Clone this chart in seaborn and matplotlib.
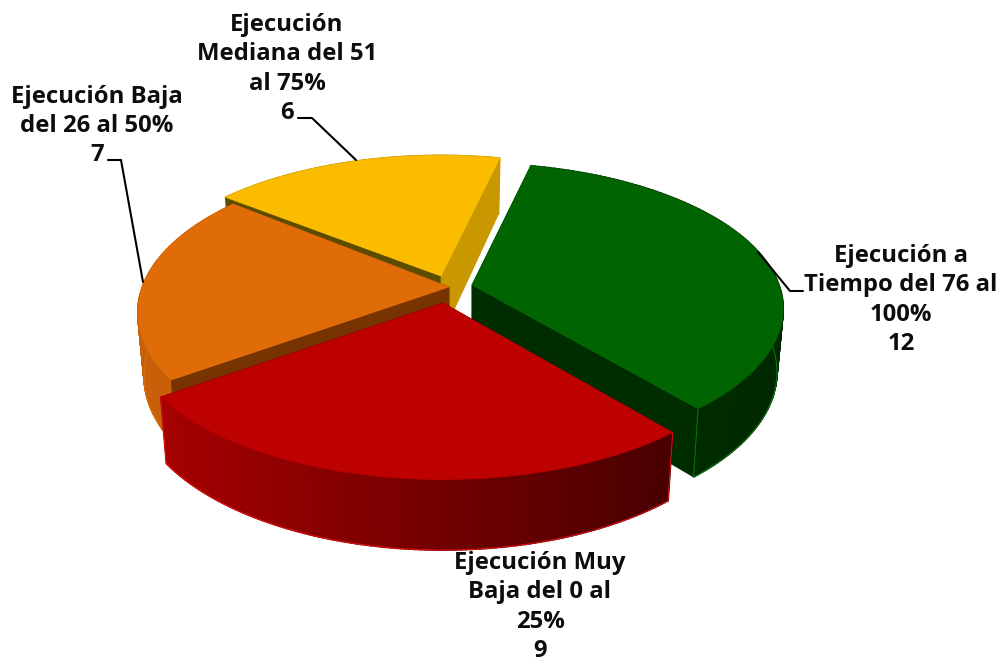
import numpy as np
import matplotlib
matplotlib.use("Agg")
import matplotlib.pyplot as plt
import seaborn as sns

# =========================
# DATA
# =========================
categories = [
    "Ejecución a\nTiempo del 76 al\n100%",
    "Ejecución Muy\nBaja del 0 al\n25%",
    "Ejecución Baja\ndel 26 al 50%",
    "Ejecución\nMediana del 51\nal 75%",
]
values = [12, 9, 7, 6]

top_colors = ["#006400", "#bd0000", "#e06c07", "#fbbc00"]
wall_from = ["#003000", "#a50000", "#c8600a", "#c99700"]
wall_to = ["#002800", "#480000", "#c8600a", "#c99700"]
cut_start = ["#002d00", "#480000", "#783400", "#5c4c00"]
cut_end = ["#002d00", "#480000", "#783400", "#c99700"]
edge_colors = ["#0a7a0a", "#e01010", "#e06c07", "#fbbc00"]

# where each exploded slice sits, in pixels
apex_x = [472, 443, 449, 441]
apex_y = [285, 305, 288, 281]
tip_y = [285, 303, 287, 276]
size_x = [1.0, 1.016, 1.0, 1.0]
size_y = [0.97, 1.0, 1.0, 1.0]
label_x = [901, 540, 97, 287]
label_y = [300, 607, 126, 69]
leaders = [
    [(758, 252), (790, 291), (803, 291)],
    None,
    [(143, 282), (121, 160), (108, 160)],
    [(356, 160), (312, 118), (298, 118)],
]

# view settings of the 3d look
start_angle = 12.8
radius_x = 307
radius_y = 146
persp = 0.163
depth = 62
shrink = 0.98


def project(i, angle, lower=False):
    rad = np.radians(angle)
    u, v = np.sin(rad), -np.cos(rad)
    s = 1 / (1 - persp * v)
    rx = radius_x * size_x[i]
    ry = radius_y * size_y[i]
    if lower:
        return apex_x[i] + rx * u * s * shrink, apex_y[i] + ry * v * s * shrink + depth * s
    return apex_x[i] + rx * u * s, apex_y[i] + ry * v * s


def draw_cuts(i, a0, a1, layer):
    cx, cy = apex_x[i], tip_y[i]
    for angle, color in [(a0, cut_start[i]), (a1, cut_end[i])]:
        tx, ty = project(i, angle)
        bx, by = project(i, angle, lower=True)
        ax.fill([cx, tx, bx, cx], [cy, ty, by, cy + depth], color=color, lw=0.5, zorder=layer)


# =========================
# FIGURE
# =========================
sns.set_theme(style="white")
plt.rcParams["font.family"] = ["Open Sans", "DejaVu Sans"]

fig, ax = plt.subplots(figsize=(10.01, 6.62), dpi=100)
ax.set_position([0, 0, 1, 1])
ax.set_xlim(0, 1001)
ax.set_ylim(662, 0)
ax.axis("off")

sweeps = 360 * np.array(values) / sum(values)
starts = start_angle + np.concatenate([[0], np.cumsum(sweeps)[:-1]])

# back slices first, red goes last because it sits in front
for layer, i in enumerate([3, 2, 0, 1]):
    a0, a1 = starts[i], starts[i] + sweeps[i]
    angles = np.linspace(a0, a1, 121)

    # front slices show their wall over the cuts, back slices the other way
    if i < 2:
        draw_cuts(i, a0, a1, layer)

    # outer wall with a left to right gradient
    grad = sns.blend_palette([wall_from[i], wall_to[i]], 120)
    xs_all = np.array([project(i, a)[0] for a in angles])
    mid_x = (xs_all[:-1] + xs_all[1:]) / 2
    shade = (mid_x - mid_x.min()) / (mid_x.max() - mid_x.min()) * 119
    for j in range(120):
        p1 = project(i, angles[j])
        p2 = project(i, angles[j + 1])
        p3 = project(i, angles[j + 1], lower=True)
        p4 = project(i, angles[j], lower=True)
        ax.fill(
            [p1[0], p2[0], p3[0], p4[0]],
            [p1[1], p2[1], p3[1], p4[1]],
            color=grad[int(shade[j])],
            lw=1.2,
            zorder=layer,
        )
    low = np.array([project(i, a, lower=True) for a in angles])
    visible = low[:, 1] > apex_y[i] + depth * 0.6
    ax.plot(low[visible, 0], low[visible, 1], color=edge_colors[i], lw=0.7, zorder=layer)

    if i >= 2:
        draw_cuts(i, a0, a1, layer)

    # thin light line on the corners of the two front slices
    if i < 2:
        for angle in [a0, a1]:
            tx, ty = project(i, angle)
            bx, by = project(i, angle, lower=True)
            ax.plot([tx, bx], [ty, by], color=edge_colors[i], lw=0.7, zorder=layer)

    # top of the slice
    arc = np.array([project(i, a) for a in angles])
    ax.fill(
        np.r_[apex_x[i], arc[:, 0]],
        np.r_[tip_y[i], arc[:, 1]],
        color=top_colors[i],
        lw=0.5,
        zorder=layer,
    )

# =========================
# LABELS
# =========================
for i, cat in enumerate(categories):
    ax.text(
        label_x[i],
        label_y[i],
        f"{cat}\n{values[i]}",
        ha="center",
        va="center",
        fontsize=17.2,
        fontweight="bold",
        color="#0d0d0d",
        linespacing=1.28,
        zorder=10,
    )
    if leaders[i] is not None:
        ax.plot(
            [p[0] for p in leaders[i]],
            [p[1] for p in leaders[i]],
            color="black",
            lw=1.5,
            zorder=9,
        )

plt.savefig("out.png", dpi=100)
